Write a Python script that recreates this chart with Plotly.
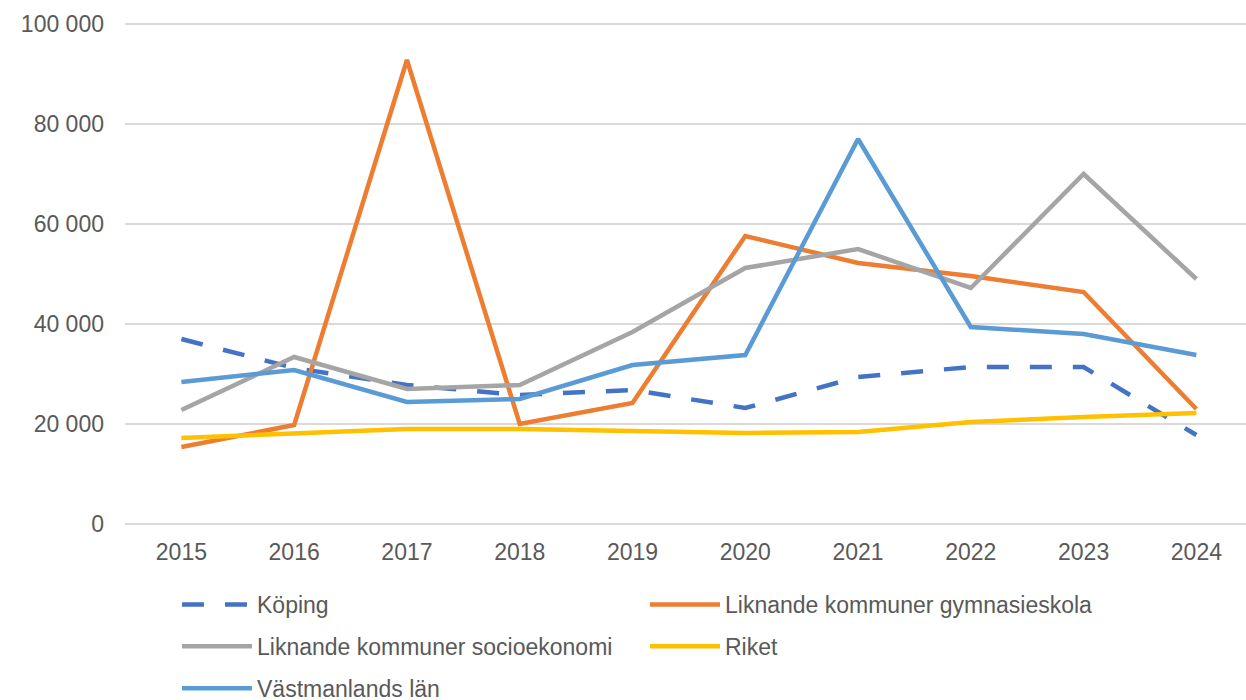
import plotly.graph_objects as go

years = ["2015", "2016", "2017", "2018", "2019", "2020", "2021", "2022", "2023", "2024"]
koping = [37000, 31200, 27800, 25800, 26800, 23200, 29400, 31400, 31400, 17800]
lik_gymn = [15400, 19800, 92800, 20000, 24200, 57600, 52200, 49600, 46400, 23000]
lik_socio = [22800, 33400, 27000, 27800, 38400, 51200, 55000, 47200, 70000, 49000]
riket = [17200, 18200, 19000, 19000, 18600, 18200, 18400, 20400, 21400, 22200]
vastmanland = [28400, 30800, 24400, 25000, 31800, 33800, 77000, 39400, 38000, 33800]

# (name, values, colour, dash, legend column)
series = [
    ("Köping", koping, "#4472C4", "22px,21px", "legend"),
    ("Liknande kommuner gymnasieskola", lik_gymn, "#ED7D31", "solid", "legend2"),
    ("Liknande kommuner socioekonomi", lik_socio, "#A5A5A5", "solid", "legend"),
    ("Riket", riket, "#FFC000", "solid", "legend2"),
    ("Västmanlands län", vastmanland, "#5B9BD5", "solid", "legend"),
]

FONT = "Liberation Sans, Arial, sans-serif"
TXT = "#595959"

fig = go.Figure()
for i, (name, vals, color, dash, leg) in enumerate(series):
    fig.add_trace(go.Scatter(
        x=years, y=vals, name=name, mode="lines",
        line=dict(color=color, width=4.5, dash=dash),
        legend=leg, legendgroup=f"g{i}",
        hoverinfo="x+y+name",
    ))

legend_common = dict(
    orientation="v", xref="paper", yref="container",
    xanchor="left", yanchor="top", itemwidth=70, tracegroupgap=9,
    font=dict(family=FONT, size=23, color=TXT),
    bgcolor="rgba(0,0,0,0)", itemclick=False, itemdoubleclick=False,
)

fig.update_layout(
    width=1246, height=700,
    margin=dict(l=125, r=0, t=22, b=176),
    paper_bgcolor="white", plot_bgcolor="white",
    separators=", ",
    font=dict(family=FONT, size=23, color=TXT),
    showlegend=True,
    legend=dict(x=(177 - 125) / 1121, y=1 - 583 / 700, **legend_common),
    legend2=dict(x=(645 - 125) / 1121, y=1 - 583 / 700, **legend_common),
    xaxis=dict(
        type="category", range=[-0.5, 9.44], showgrid=False, zeroline=False,
        showline=False, ticks="", ticklabelstandoff=12,
        tickfont=dict(family=FONT, size=23, color=TXT),
    ),
    yaxis=dict(
        range=[0, 100400], tick0=0, dtick=20000, tickformat=",d",
        showgrid=True, gridcolor="#D9D9D9", gridwidth=1.5,
        zeroline=True, zerolinecolor="#D9D9D9", zerolinewidth=1.5,
        showline=False, ticks="", ticklabelstandoff=20,
        tickfont=dict(family=FONT, size=23, color=TXT),
    ),
)

fig.write_html(
    "out.html",
    config={"displayModeBar": False},
    post_script="document.body.style.margin='0px';",
)
